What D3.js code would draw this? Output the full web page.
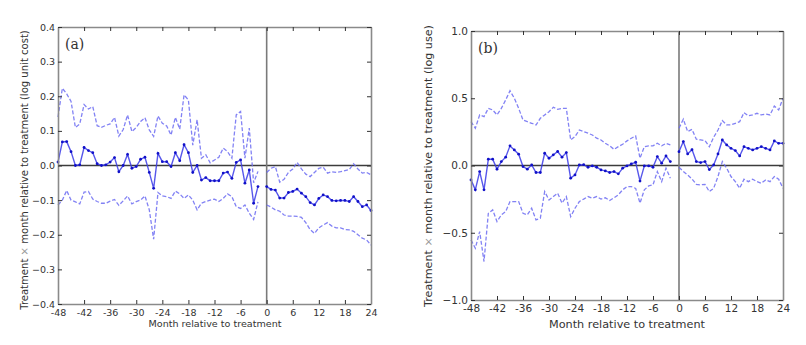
<!DOCTYPE html>
<html><head><meta charset="utf-8">
<script src="https://cdn.jsdelivr.net/npm/d3@7"></script>
<style>body{margin:0;background:#fff}svg{display:block}</style>
</head><body>
<svg id="chart" width="806" height="345"></svg>
<script>
const months = [-48,-47,-46,-45,-44,-43,-42,-41,-40,-39,-38,-37,-36,-35,-34,-33,-32,-31,-30,-29,-28,-27,-26,-25,-24,-23,-22,-21,-20,-19,-18,-17,-16,-15,-14,-13,-12,-11,-10,-9,-8,-7,-6,-5,-4,-3,-2,-1,0,1,2,3,4,5,6,7,8,9,10,11,12,13,14,15,16,17,18,19,20,21,22,23,24];
const xTicks = [-48,-42,-36,-30,-24,-18,-12,-6,0,6,12,18,24];
const aYTicks = [-0.4,-0.3,-0.2,-0.1,0,0.1,0.2,0.3,0.4];
const bYTicks = [-1,-0.5,0,0.5,1];

// Panel (a): log unit cost
const aPoint = [0.01,0.068,0.069,0.04,0.0,0.002,0.052,0.043,0.037,0.005,0.0,0.002,0.01,0.023,-0.018,0.0,0.032,-0.008,-0.003,0.018,0.024,-0.02,-0.066,0.035,0.011,0.011,-0.003,0.037,0.014,0.06,0.037,-0.02,0.0,-0.042,-0.035,-0.044,-0.044,-0.044,-0.022,-0.019,-0.037,0.009,0.016,-0.051,-0.013,-0.109,-0.061,null,-0.061,-0.069,-0.071,-0.094,-0.094,-0.078,-0.075,-0.068,-0.08,-0.09,-0.107,-0.114,-0.095,-0.085,-0.09,-0.101,-0.102,-0.101,-0.101,-0.104,-0.09,-0.104,-0.119,-0.114,-0.13];
const aUpper = [0.14,0.223,0.207,0.185,0.11,0.12,0.176,0.163,0.17,0.115,0.11,0.116,0.12,0.139,0.085,0.104,0.146,0.098,0.11,0.127,0.138,0.103,0.084,0.143,0.122,0.114,0.088,0.139,0.105,0.204,0.189,0.059,0.132,0.021,0.031,0.008,0.016,0.024,0.05,0.04,0.021,0.146,0.156,0.021,0.108,-0.05,-0.017,null,-0.02,-0.008,-0.003,-0.048,-0.04,-0.02,-0.01,0.009,-0.01,-0.025,-0.032,-0.02,-0.008,-0.005,-0.022,-0.018,-0.02,-0.018,-0.015,-0.012,0.005,-0.01,-0.022,-0.02,-0.027];
const aLower = [-0.114,-0.1,-0.072,-0.1,-0.105,-0.111,-0.077,-0.075,-0.097,-0.104,-0.109,-0.109,-0.103,-0.098,-0.115,-0.102,-0.088,-0.111,-0.104,-0.1,-0.088,-0.128,-0.213,-0.078,-0.088,-0.09,-0.095,-0.074,-0.082,-0.095,-0.085,-0.1,-0.128,-0.109,-0.104,-0.1,-0.097,-0.104,-0.095,-0.082,-0.09,-0.119,-0.124,-0.114,-0.138,-0.156,-0.105,null,-0.114,-0.12,-0.128,-0.132,-0.143,-0.146,-0.146,-0.147,-0.15,-0.165,-0.185,-0.196,-0.18,-0.172,-0.165,-0.175,-0.18,-0.18,-0.185,-0.186,-0.19,-0.2,-0.21,-0.215,-0.23];

// Panel (b): log use
const bPoint = [-0.107,-0.181,-0.045,-0.181,0.047,0.047,-0.027,0.029,0.062,0.146,0.116,0.084,-0.008,-0.027,0.004,-0.052,-0.052,0.091,0.054,0.079,0.104,0.062,0.096,-0.094,-0.07,0.004,0.006,-0.013,-0.003,-0.013,-0.033,-0.04,-0.052,-0.045,-0.062,-0.02,-0.003,0.012,0.024,-0.116,-0.003,-0.003,-0.013,0.066,0.017,0.071,0.029,null,0.103,0.178,0.086,0.118,0.029,0.022,0.029,-0.03,0.004,0.086,0.19,0.153,0.128,0.111,0.071,0.14,0.128,0.116,0.128,0.14,0.128,0.116,0.183,0.165,0.165];
const bUpper = [0.326,0.277,0.376,0.363,0.425,0.413,0.376,0.425,0.487,0.556,0.5,0.425,0.338,0.326,0.314,0.301,0.351,0.376,0.4,0.433,0.418,0.425,0.425,0.19,0.215,0.264,0.252,0.24,0.227,0.203,0.19,0.165,0.146,0.12,0.14,0.158,0.183,0.203,0.22,0.054,0.14,0.146,0.146,0.165,0.146,0.165,0.153,null,0.277,0.344,0.252,0.269,0.195,0.19,0.185,0.14,0.21,0.264,0.334,0.302,0.302,0.314,0.326,0.393,0.369,0.376,0.388,0.376,0.383,0.376,0.442,0.413,0.5];
const bLower = [-0.553,-0.615,-0.491,-0.714,-0.355,-0.33,-0.417,-0.367,-0.343,-0.268,-0.268,-0.268,-0.355,-0.367,-0.318,-0.404,-0.392,-0.194,-0.256,-0.231,-0.206,-0.28,-0.231,-0.38,-0.318,-0.268,-0.25,-0.231,-0.243,-0.231,-0.25,-0.24,-0.26,-0.24,-0.218,-0.181,-0.157,-0.157,-0.17,-0.28,-0.181,-0.152,-0.144,-0.045,-0.12,-0.02,-0.094,null,-0.013,-0.045,-0.07,-0.1,-0.14,-0.144,-0.14,-0.194,-0.169,-0.082,0.029,-0.02,-0.082,-0.12,-0.169,-0.102,-0.12,-0.102,-0.12,-0.132,-0.107,-0.12,-0.082,-0.102,-0.169];

const svg = d3.select("#chart");

function fitText(sel, size, target) {
  sel.attr("font-size", size);
  const len = sel.node().getComputedTextLength();
  if (len > 0) sel.attr("font-size", (size * target / len).toFixed(2));
}

function drawPanel(cfg) {
  const x = d3.scaleLinear().domain([-48, 24]).range([cfg.left, cfg.right]);
  const y = d3.scaleLinear().domain(cfg.yDomain).range([cfg.bottom, cfg.top]);
  const g = svg.append("g");
  const spine = "#8a8a8a";

  g.append("line").attr("x1", x(-48)).attr("x2", x(24)).attr("y1", y(0)).attr("y2", y(0))
    .attr("stroke", "#3c3c3c").attr("stroke-width", 1.6);
  g.append("line").attr("x1", x(0)).attr("x2", x(0)).attr("y1", y(cfg.yDomain[0])).attr("y2", y(cfg.yDomain[1]))
    .attr("stroke", "#7a7a7a").attr("stroke-width", 1.6);

  const rows = months.map((m, i) => ({m, p: cfg.point[i], u: cfg.upper[i], l: cfg.lower[i]}));
  const mk = key => d3.line().defined(d => d[key] !== null).x(d => x(d.m)).y(d => y(d[key]));

  ["u", "l"].forEach(k => {
    g.append("path").datum(rows).attr("d", mk(k)).attr("fill", "none")
      .attr("stroke", "#6c6cf2").attr("stroke-width", 1.3).attr("stroke-dasharray", "4,2")
      .attr("stroke-opacity", 0.85);
  });
  g.append("path").datum(rows).attr("d", mk("p")).attr("fill", "none")
    .attr("stroke", "#3a3ae8").attr("stroke-width", 1.4).attr("stroke-opacity", 0.85);
  g.selectAll("circle.pt").data(rows.filter(d => d.p !== null)).enter().append("circle")
    .attr("cx", d => x(d.m)).attr("cy", d => y(d.p)).attr("r", 1.4).attr("fill", "#1010c8");

  const fs = cfg.tickFont;
  const bottom = g.append("g").attr("transform", `translate(0,${cfg.bottom})`)
    .call(d3.axisBottom(x).tickValues(xTicks).tickFormat(d => String(d)).tickSizeInner(-4).tickSizeOuter(0).tickPadding(cfg.xPad));
  const top = g.append("g").attr("transform", `translate(0,${cfg.top})`)
    .call(d3.axisTop(x).tickValues(xTicks).tickFormat("").tickSizeInner(-4).tickSizeOuter(0));
  const left = g.append("g").attr("transform", `translate(${cfg.left},0)`)
    .call(d3.axisLeft(y).tickValues(cfg.yTicks).tickFormat(d3.format(".1f")).tickSizeInner(-4).tickSizeOuter(0).tickPadding(3));
  const right = g.append("g").attr("transform", `translate(${cfg.right},0)`)
    .call(d3.axisRight(y).tickValues(cfg.yTicks).tickFormat("").tickSizeInner(-4).tickSizeOuter(0));
  [bottom, top, left, right].forEach(a => {
    a.select(".domain").attr("stroke", spine).attr("stroke-width", 1.6);
    a.selectAll(".tick line").attr("stroke", "#333").attr("stroke-width", 1);
    a.selectAll("text").attr("font-family", "DejaVu Sans").attr("font-size", fs).attr("fill", "#333");
  });

  const xt = g.append("text").attr("x", cfg.xTitleCX).attr("y", cfg.xTitleY)
    .attr("text-anchor", "middle").attr("font-family", "DejaVu Sans")
    .attr("fill", "#333").text("Month relative to treatment");
  fitText(xt, 10, cfg.xTitleLen);

  const yt = g.append("text").attr("transform", `translate(${cfg.yTitleX},${cfg.yTitleCY}) rotate(-90)`)
    .attr("text-anchor", "middle").attr("font-family", "DejaVu Sans").attr("fill", "#333");
  yt.append("tspan").text("Treatment ");
  yt.append("tspan").attr("fill", "#999").text("×");
  yt.append("tspan").text(" month relative to treatment " + cfg.yUnit);
  fitText(yt, 10, cfg.yTitleLen);

  g.append("text").attr("x", cfg.left + 7).attr("y", cfg.top + 22)
    .attr("font-family", "DejaVu Serif").attr("font-size", 14).attr("fill", "#333").text(cfg.label);
}

drawPanel({left: 58, right: 371, top: 27, bottom: 304, yDomain: [-0.4, 0.4], yTicks: aYTicks,
  point: aPoint, upper: aUpper, lower: aLower, tickFont: 9.5, xPad: 5,
  xTitleCX: 215, xTitleY: 327, xTitleLen: 133,
  yTitleX: 28, yTitleCY: 170, yTitleLen: 280, yUnit: "(log unit cost)", label: "(a)"});
drawPanel({left: 471, right: 783, top: 31, bottom: 300, yDomain: [-1, 1], yTicks: bYTicks,
  point: bPoint, upper: bUpper, lower: bLower, tickFont: 10.5, xPad: 5,
  xTitleCX: 627, xTitleY: 328, xTitleLen: 156,
  yTitleX: 432, yTitleCY: 166, yTitleLen: 282, yUnit: "(log use)", label: "(b)"});
</script>
</body></html>
